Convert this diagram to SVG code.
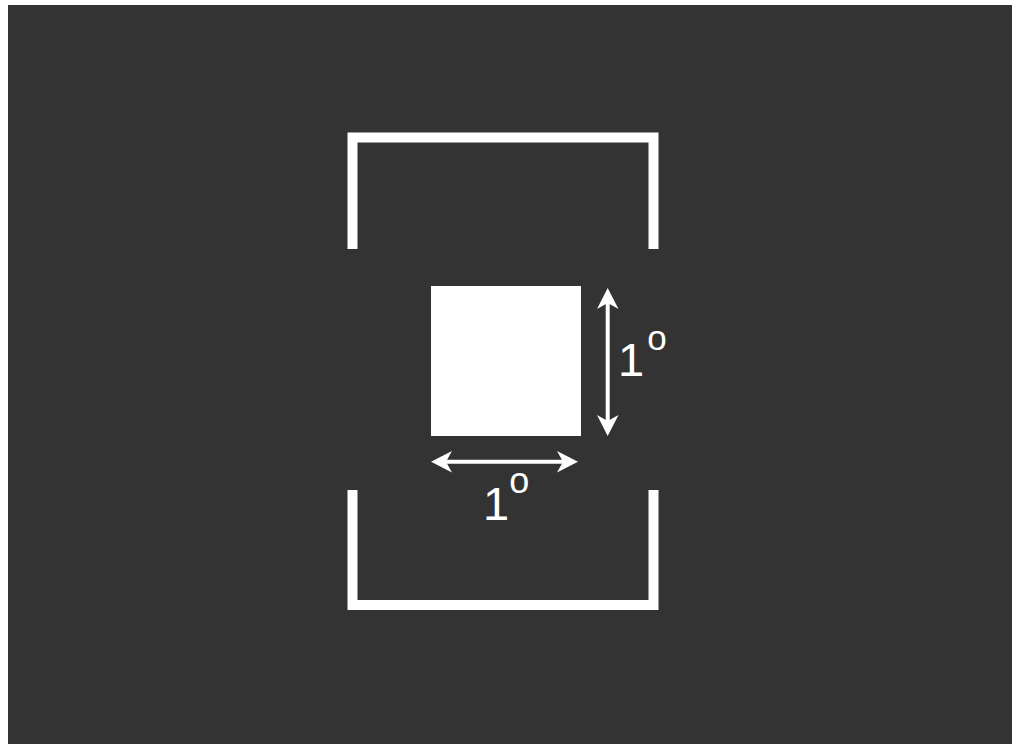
<svg xmlns="http://www.w3.org/2000/svg" width="1012" height="744" viewBox="0 0 1012 744">
<style>
.br{fill:none;stroke:#fff;stroke-width:10;stroke-linecap:butt;stroke-linejoin:miter}
.sh{stroke:#fff;stroke-width:4}
.hd{fill:#fff}
.lb{fill:#fff}
</style>
<rect x="0" y="0" width="1012" height="744" fill="#ffffff"/>
<rect x="8" y="5" width="1004" height="739" fill="#333333"/>
<g id="top-bracket"><path class="br" d="M352.5,249 V137.5 H653.5 V249"/></g>
<g id="bottom-bracket"><path class="br" d="M352.5,490 V605 H653.5 V490"/></g>
<g id="square"><rect x="431" y="286" width="150" height="150" fill="#fff"/></g>
<g id="connectors">
<line class="sh" x1="607.7" y1="300" x2="607.7" y2="424"/>
<path class="hd" d="M607.7,288 L618.5,309 L607.7,303 L597,309 Z"/>
<path class="hd" d="M607.7,436 L618.5,415 L607.7,421 L597,415 Z"/>
<line class="sh" x1="443" y1="461.7" x2="566" y2="461.7"/>
<path class="hd" d="M431,461.7 L452,451 L446,461.7 L452,472.5 Z"/>
<path class="hd" d="M578,461.7 L557,451 L563,461.7 L557,472.5 Z"/>
</g>
<g id="label-vertical"><text class="lb" font-family="Liberation Sans, Arial, sans-serif" font-size="47" x="618" y="376">1<tspan font-size="35" dx="3" dy="-26.5">o</tspan></text></g>
<g id="label-horizontal"><text class="lb" font-family="Liberation Sans, Arial, sans-serif" font-size="47" x="483" y="520">1<tspan font-size="36" dx="0" dy="-27">o</tspan></text></g>
</svg>
